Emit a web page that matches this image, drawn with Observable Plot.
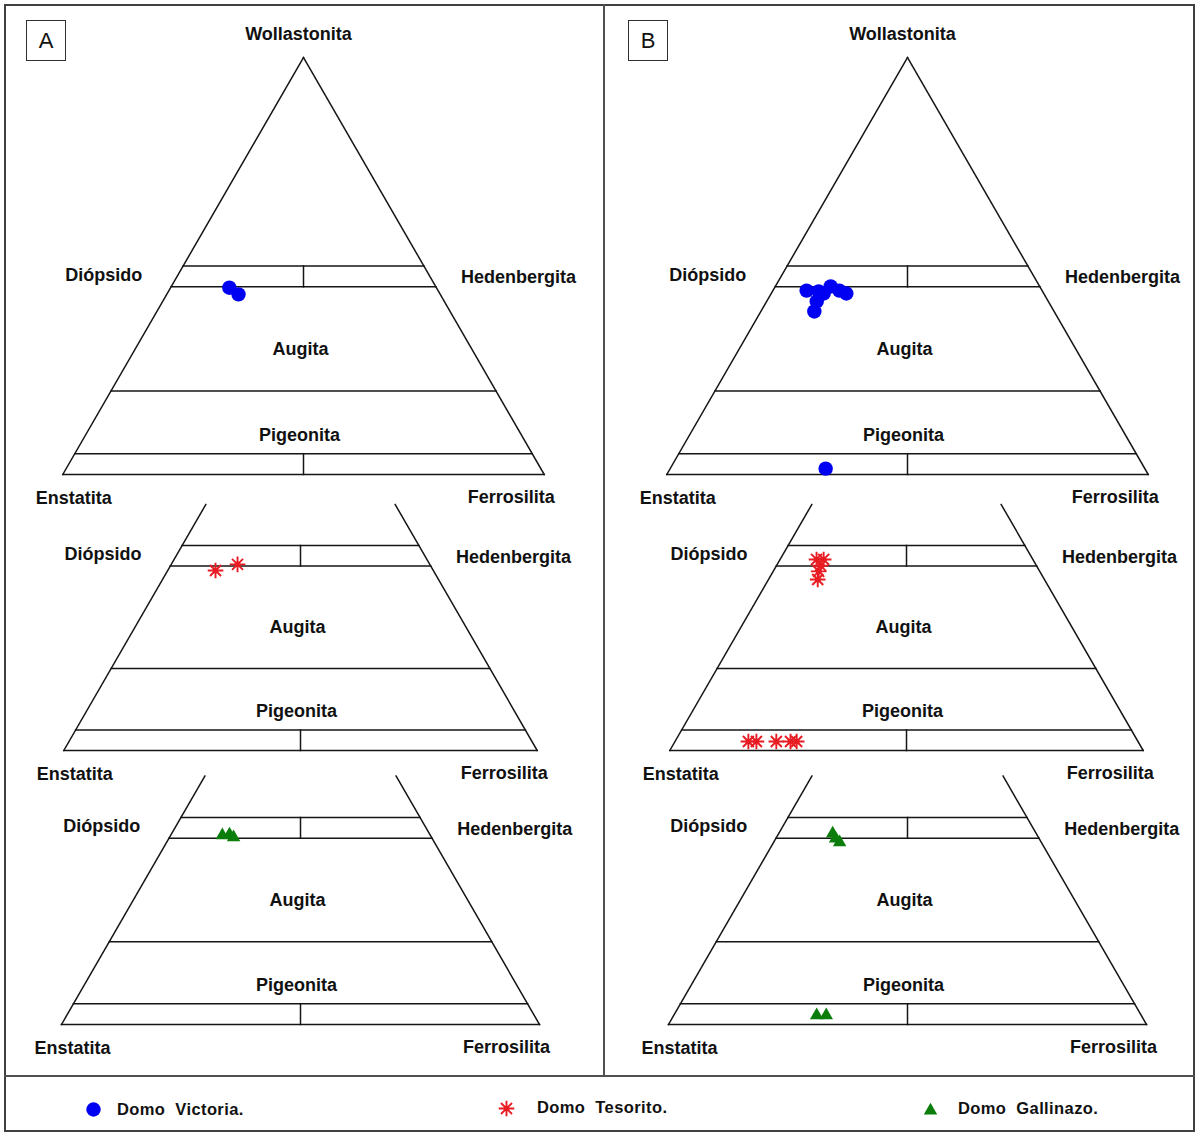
<!DOCTYPE html>
<html lang="es">
<head>
<meta charset="utf-8">
<title>Clasificación de piroxenos – Domos Victoria, Tesorito y Gallinazo</title>
<script src="https://cdn.jsdelivr.net/npm/d3@7"></script>
<script src="https://cdn.jsdelivr.net/npm/@observablehq/plot@0.6"></script>
<style>
  html, body { margin: 0; padding: 0; background: #fff; }
  #figure { position: relative; width: 1198px; height: 1135px; overflow: hidden;
            font-family: "Liberation Sans", Arial, sans-serif; color: #111; }
  .frame { position: absolute; left: 4px; top: 4px; width: 1191px; height: 1128px;
           border: 2px solid #404040; box-sizing: border-box; }
  .rule { position: absolute; background: #505050; }
  .tag { position: absolute; top: 20px; width: 40px; height: 41px; box-sizing: border-box;
         border: 1px solid #303030; font-size: 22px; line-height: 39px; text-align: center; }
  .slot { position: absolute; }
  .swatch { position: absolute; width: 20px; height: 20px; }
  .legend-text { position: absolute; font-size: 16.5px; font-weight: bold; letter-spacing: 0.4px;
                 word-spacing: 5px; line-height: 20px; white-space: nowrap; }
</style>
</head>
<body>
<div id="figure">
  <div class="frame"></div>
  <div class="rule" style="left:603px;top:4px;width:2px;height:1073px"></div>
  <div class="rule" style="left:4px;top:1075px;width:1191px;height:2px"></div>
  <div class="tag" style="left:26px">A</div>
  <div class="tag" style="left:628px">B</div>
</div>
<script>
// Pyroxene analyses as mol % [Wo, En, Fs]
const victoriaA  = [[44.8, 43.0, 12.2], [43.2, 41.9, 14.9]];
const tesoritoA  = [[43.9, 46.0, 10.1], [45.4, 40.6, 14.0]];
const gallinazoA = [[45.7, 43.5, 10.8], [45.9, 41.9, 12.2], [45.2, 41.4, 13.4]];

const victoriaB  = [[44.1, 48.9, 7.0], [43.9, 46.5, 9.6], [45.1, 43.4, 11.5], [44.1, 42.1, 13.8],
                    [43.4, 41.0, 15.6], [41.5, 48.1, 10.4], [39.1, 49.8, 11.1], [43.4, 45.7, 10.9],
                    [1.4, 66.3, 32.3]];
const tesoritoB  = [[46.6, 45.7, 7.7], [46.6, 44.2, 9.2], [45.1, 45.6, 9.3], [43.7, 46.7, 9.6],
                    [41.7, 47.9, 10.4], [2.2, 82.3, 15.5], [2.2, 80.6, 17.2], [2.2, 76.4, 21.4],
                    [2.2, 73.4, 24.4], [2.2, 72.1, 25.7]];
const gallinazoB = [[46.1, 42.6, 11.3], [44.0, 42.2, 13.8], [44.9, 42.6, 12.5],
                    [2.2, 67.9, 29.9], [2.2, 65.9, 31.9]];

const domes = ["Domo Victoria.", "Domo Tesorito.", "Domo Gallinazo."];

// Field boundaries of the Wo–En–Fs quadrilateral (Wo mol %), base included
const fieldBoundaries = [50, 45, 20, 5, 0];
// Wo intervals split by the En = Fs line
const dividers = [[45, 50], [0, 5]];
// Wo at which the lower diagrams are cut off
const cutWo = 60;

const SQRT3 = Math.sqrt(3);
const BLUE = "#0000f2", RED = "#e81c22", GREEN = "#0a7d0a", INK = "#151515";

// eight-armed asterisk
const asterisk8 = {
  draw(context, size) {
    const r = Math.sqrt(size / Math.PI);
    for (let k = 0; k < 4; ++k) {
      const a = (k * Math.PI) / 4;
      const dx = r * Math.cos(a), dy = r * Math.sin(a);
      context.moveTo(-dx, -dy);
      context.lineTo(dx, dy);
    }
  }
};

// marks for each dome, reused by the legend
function domeMarks(i, data, opts) {
  if (i === 0) return [Plot.dot(data, {...opts, symbol: "circle", r: 7.2, fill: BLUE})];
  if (i === 1) return [
    Plot.dot(data, {...opts, symbol: asterisk8, r: 7.8, fill: "none", stroke: RED, strokeWidth: 1.9}),
    Plot.dot(data, {...opts, symbol: "circle", r: 2.8, fill: RED})
  ];
  return [Plot.dot(data, {...opts, symbol: "triangle", r: 5, fill: GREEN})];
}

// ternary -> cartesian: X along En–Fs base, Y = Wo fraction
function toXY([wo, en, fs]) {
  const t = wo + en + fs;
  return {X: (fs + wo / 2) / t, Y: wo / t};
}

const panels = [
  {id: "A", left: 0,   sets: [victoriaA, tesoritoA, gallinazoA],
   geo: [{cx: 303, baseY: 474, H: 417}, {cx: 300, baseY: 750, H: 410}, {cx: 300, baseY: 1024, H: 414}]},
  {id: "B", left: 600, sets: [victoriaB, tesoritoB, gallinazoB],
   geo: [{cx: 907, baseY: 474, H: 417}, {cx: 906, baseY: 750, H: 410}, {cx: 907, baseY: 1024, H: 414}]}
];
const bands = [{top: 0, height: 500}, {top: 500, height: 276}, {top: 776, height: 299}];

const apexLabel = {text: "Wollastonita", comp: [100, 0, 0], dx: -5, dy: -23};
const fieldLabels = [
  {text: "Diópsido",     comp: [47.8, 52.2, 0],     dx: -74, dy: 0},
  {text: "Hedenbergita", comp: [47.2, 0, 52.8],     dx: 88,  dy: 0},
  {text: "Augita",       comp: [30, 35, 35],        dx: -3,  dy: 0},
  {text: "Pigeonita",    comp: [9.5, 45.25, 45.25], dx: -4,  dy: 0},
  {text: "Enstatita",    comp: [0, 100, 0],         dx: 11,  dy: 24},
  {text: "Ferrosilita",  comp: [0, 0, 100],         dx: -33, dy: 23}
];

const figure = document.getElementById("figure");

function diagram(panel, row) {
  const g = panel.geo[row], band = bands[row], half = g.H / SQRT3;
  const full = row === 0;
  const top = full ? 100 : cutWo;
  const sides = [
    [[0, 100, 0], [top, 100 - top, 0]],
    [[0, 0, 100], [top, 0, 100 - top]]
  ];
  const bounds = fieldBoundaries.map(w => [[w, 100 - w, 0], [w, 0, 100 - w]]);
  const ties = dividers.map(([a, b]) => [[a, (100 - a) / 2, (100 - a) / 2], [b, (100 - b) / 2, (100 - b) / 2]]);
  const segs = [...sides, ...bounds, ...ties].map(([p, q]) => ({a: toXY(p), b: toXY(q)}));
  const labels = (full ? [apexLabel, ...fieldLabels] : fieldLabels).map(l => ({...l, ...toXY(l.comp)}));
  const pts = panel.sets[row].map(toXY);

  const plot = Plot.plot({
    width: 598,
    height: band.height,
    margin: 0,
    x: {type: "linear", domain: [0, 1], range: [g.cx - half - panel.left, g.cx + half - panel.left], axis: null},
    y: {type: "linear", domain: [0, 1], range: [g.baseY - band.top, g.baseY - g.H - band.top], axis: null},
    style: {background: "transparent", overflow: "visible", fontFamily: "Liberation Sans, Arial, sans-serif"},
    marks: [
      Plot.link(segs, {x1: d => d.a.X, y1: d => d.a.Y, x2: d => d.b.X, y2: d => d.b.Y,
                       stroke: INK, strokeWidth: 1.5, strokeLinecap: "square"}),
      ...labels.map(l => Plot.text([l], {x: "X", y: "Y", text: "text", dx: l.dx, dy: l.dy,
                                         fontSize: 18, fontWeight: "bold", fill: "#111"})),
      ...domeMarks(row, pts, {x: "X", y: "Y"})
    ]
  });
  const slot = document.createElement("div");
  slot.className = "slot";
  slot.style.left = panel.left + "px";
  slot.style.top = band.top + "px";
  slot.appendChild(plot);
  figure.appendChild(slot);
}

for (const panel of panels) for (let row = 0; row < 3; ++row) diagram(panel, row);

// legend below the diagrams
const legendItems = [
  {sx: 93,  sy: 1109, tx: 117, ty: 1099},
  {sx: 506, sy: 1108, tx: 537, ty: 1097},
  {sx: 930, sy: 1110, tx: 958, ty: 1098}
];
domes.forEach((name, i) => {
  const it = legendItems[i];
  const sw = Plot.plot({
    width: 20, height: 20, margin: 0,
    x: {domain: [-1, 1], range: [0, 20], axis: null},
    y: {domain: [-1, 1], range: [20, 0], axis: null},
    style: {background: "transparent", overflow: "visible"},
    marks: domeMarks(i, [{v: 0}], {x: "v", y: "v"})
  });
  const box = document.createElement("div");
  box.className = "swatch";
  box.style.left = (it.sx - 10) + "px";
  box.style.top = (it.sy - 10) + "px";
  box.appendChild(sw);
  figure.appendChild(box);
  const txt = document.createElement("div");
  txt.className = "legend-text";
  txt.style.left = it.tx + "px";
  txt.style.top = it.ty + "px";
  txt.textContent = name;
  figure.appendChild(txt);
});
</script>
</body>
</html>
